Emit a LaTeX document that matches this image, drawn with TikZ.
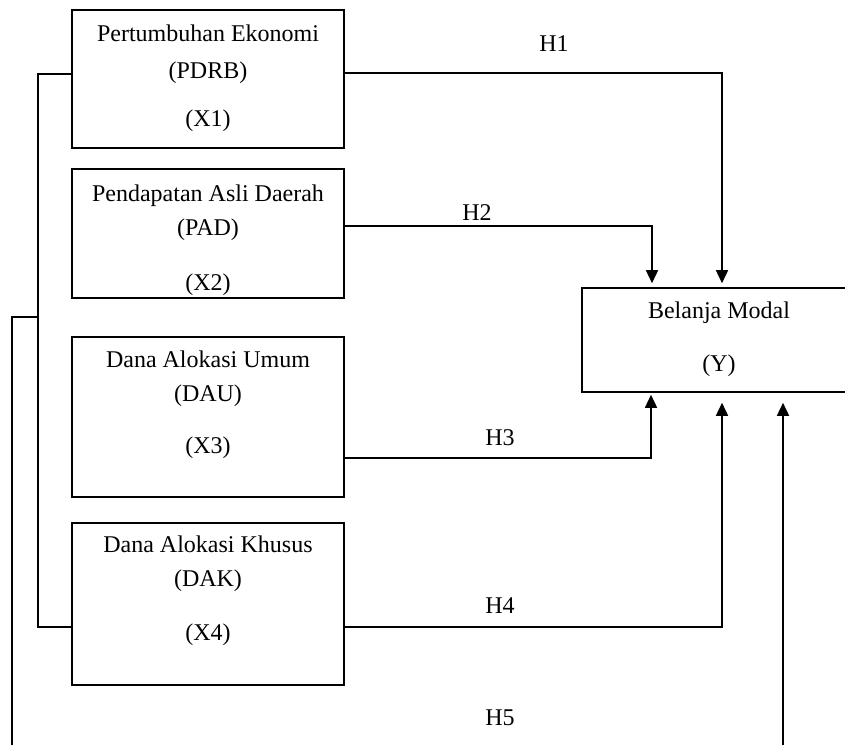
\documentclass[tikz,border=0pt]{standalone}
\usepackage{fontspec}
\setmainfont{Liberation Serif}
\usetikzlibrary{arrows.meta}

\begin{document}
\begin{tikzpicture}[x=1pt,y=-1pt]
    % \draw[step=20,help lines] (0,0) grid (845,744);
    \tikzstyle{every node}=[font=\fontsize{24}{34}\selectfont]
    \tikzstyle{var}=[draw=black,line width=1.6pt,minimum width=272pt,inner sep=0pt]
    \tikzstyle{txt}=[align=center,anchor=base,inner sep=0pt]
    \tikzstyle{line}=[line width=1.6pt]
    \tikzstyle{arr}=[line width=1.6pt,-{Triangle[length=13pt,width=12pt]}]
    \useasboundingbox (0,0) rectangle (845,744);
    \clip (0,0) rectangle (845,744);

    \node[var,minimum height=138pt] (x1) at (208,79) {};
    \node[var,minimum height=129pt] (x2) at (208,233.5) {};
    \node[var,minimum height=160pt] (x3) at (208,417) {};
    \node[var,minimum height=162pt] (x4) at (208,604) {};
    \node[var,minimum height=104pt,minimum width=274pt] (bm) at (719,340) {};

    % base of a multi-line node is its last line
    \node[txt] (x1t) at (208,126) {Pertumbuhan Ekonomi\\[3pt](PDRB)\\[14pt](X1)};
    \node[txt] (x2t) at (208,290) {Pendapatan Asli Daerah\\(PAD)\\[21pt](X2)};
    \node[txt] (x3t) at (208,453) {Dana Alokasi Umum\\(DAU)\\[18pt](X3)};
    \node[txt] (x4t) at (208,640) {Dana Alokasi Khusus\\(DAK)\\[20pt](X4)};
    \node[txt] (bmt) at (719,371) {Belanja Modal\\[19pt](Y)};

    \node[txt] (h1) at (554,51) {H1};
    \node[txt] (h2) at (477,220) {H2};
    \node[txt] (h3) at (500,445) {H3};
    \node[txt] (h4) at (500,613) {H4};
    \node[txt] (h5) at (500,725) {H5};

    \draw[arr,shorten >=4pt] ([yshift=6pt]x1.east) -| ([xshift=3pt]bm.north);
    \draw[arr,shorten >=4pt] ([yshift=7.5pt]x2.east) -| ([xshift=-67pt]bm.north);
    \draw[arr,shorten >=2pt] ([yshift=-41pt]x3.east) -| ([xshift=-68pt]bm.south);
    \draw[arr,shorten >=10pt] ([yshift=-23pt]x4.east) -| ([xshift=3pt]bm.south);

    \coordinate (jn) at (38,317);
    \coordinate (lo) at (12,760);
    \draw[line] ([yshift=5pt]x1.west) -| (jn) |- ([yshift=-23pt]x4.west);
    \draw[arr,shorten >=10pt] (jn) -| (lo) -| ([xshift=64pt]bm.south);
\end{tikzpicture}
\end{document}
